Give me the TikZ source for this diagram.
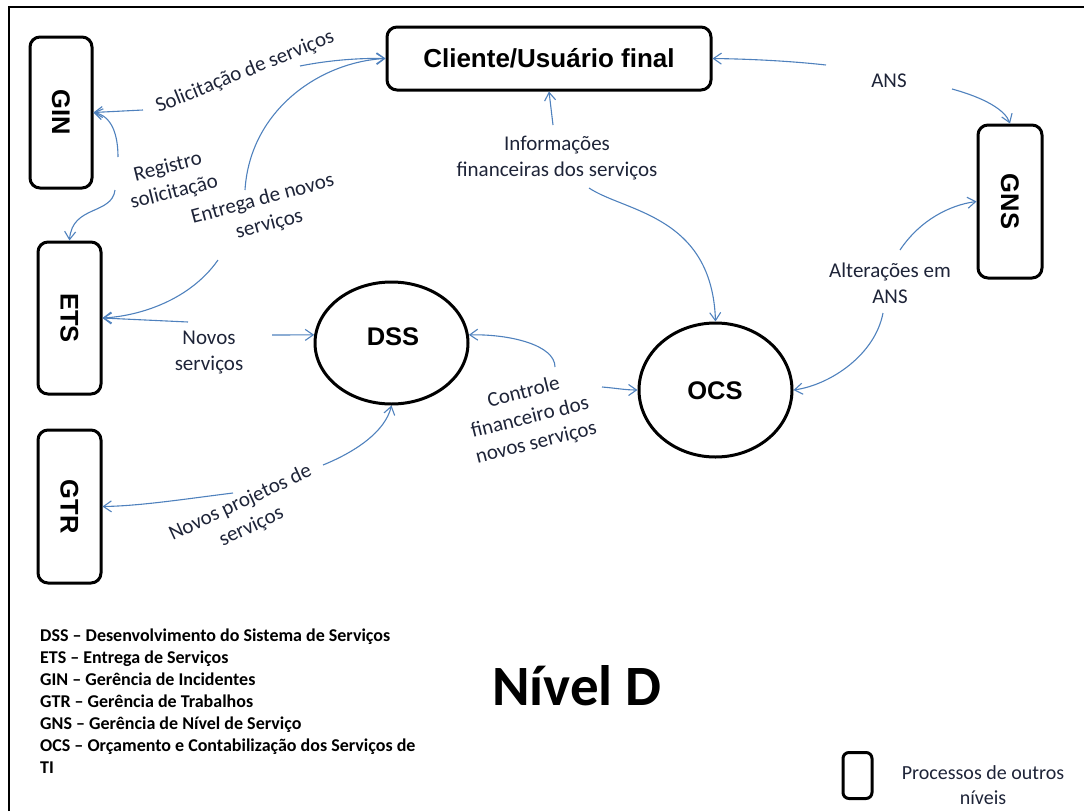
\documentclass[tikz,border=0pt]{standalone}
\usepackage{fontspec}
\setmainfont{Carlito}
\newfontfamily\procfont{Liberation Sans}
\usetikzlibrary{arrows.meta,shapes.geometric}
\definecolor{flow}{HTML}{4F81BD}
\definecolor{ink}{HTML}{1E2438}
\begin{document}
\begin{tikzpicture}[x=1pt,y=-1pt,
  proc/.style={draw=black, line width=3pt, rounded corners=10pt, inner sep=0pt,
    font=\procfont\bfseries\fontsize{25.5}{30}\selectfont},
  circ/.style={draw=black, ellipse, line width=3pt, inner sep=0pt},
  proctext/.style={font=\procfont\bfseries\fontsize{25.5}{30}\selectfont, inner sep=0pt},
  flowlab/.style={font=\fontsize{21}{26}\selectfont, text=ink, align=center, inner sep=1pt},
  legline/.style={font=\bfseries\fontsize{18}{22}\selectfont, anchor=base west, inner sep=0pt},
  link/.style={draw=flow, line width=1.1pt, -{Straight Barb[length=8pt,width=11pt]}}
]
\useasboundingbox (0,0) rectangle (1084,811);
% frame
\draw[line width=2pt] (9,811) -- (9,7) -- (1084,7);

% processes of other levels
\node[proc, minimum width=62pt, minimum height=151pt] (GIN) at (61,112.5) {\rotatebox{-90}{GIN}};
\node[proc, minimum width=63pt, minimum height=152pt] (ETS) at (69.5,318) {\rotatebox{-90}{ETS}};
\node[proc, minimum width=63pt, minimum height=153pt] (GTR) at (69.5,506.5) {\rotatebox{-90}{GTR}};
\node[proc, minimum width=64pt, minimum height=153pt] (GNS) at (1010,201.5) {\rotatebox{-90}{GNS}};
\node[proc, minimum width=324pt, minimum height=63pt, font=\procfont\bfseries\fontsize{26}{30}\selectfont] (Cliente) at (549,58.5) {Cliente/Usuário final};

% processes of this level
\node[circ, minimum width=153pt, minimum height=122pt] (DSS) at (391.5,343) {};
\node[proctext] (DSSt) at (393,337) {DSS};
\node[circ, minimum width=153pt, minimum height=134pt] (OCS) at (715.5,390) {};
\node[proctext] (OCSt) at (715,390.5) {OCS};

% flow labels
\node[flowlab, rotate=22] (lSol) at (245,72) {Solicitação de serviços};
\node[flowlab, rotate=14] (lReg) at (171,180) {Registro\\solicitação};
\node[flowlab, rotate=15] (lEnt) at (266,212) {Entrega de novos\\serviços};
\node[flowlab] (lNov) at (209,353) {Novos\\serviços};
\node[flowlab, rotate=25] (lPro) at (246,515) {Novos projetos de\\serviços};
\node[flowlab, rotate=14] (lCon) at (530,418) {Controle\\financeiro dos\\novos serviços};
\node[flowlab] (lInf) at (557,158) {Informações\\financeiras dos serviços};
\node[flowlab] (lANS) at (889,81) {ANS};
\node[flowlab] (lAlt) at (890,283) {Alterações em\\ANS};

% connectors
\coordinate (sA) at (143,110);
\draw[link] (sA) -- (GIN.east);
\coordinate (sB) at (300,66);
\draw[link] (sB) .. controls (330,60) and (360,58) .. (Cliente.west);
\coordinate (rA) at (118,157);
\draw[link] (rA) .. controls (118,135) and (112,116) .. (GIN.east);
\coordinate (rB) at (115,190);
\draw[link] (rB) .. controls (112,215) and (72,205) .. (ETS.north);
\coordinate (eA) at (245,190);
\draw[link] (eA) .. controls (250,110) and (320,62) .. (Cliente.west);
\coordinate (eB) at (218,260);
\draw[link] (eB) .. controls (190,300) and (140,316) .. (ETS.east);
\coordinate (nA) at (188,322);
\draw[link] (nA) -- (ETS.east);
\coordinate (nB) at (272,335);
\draw[link] (nB) -- (DSS.174);
\coordinate (pA) at (233,493);
\draw[link] (pA) .. controls (185,499) and (140,506) .. (GTR.east);
\coordinate (pB) at (323,465);
\draw[link] (pB) .. controls (355,452) and (385,432) .. (DSS.south);
\coordinate (cA) at (555,367);
\draw[link] (cA) .. controls (555,345) and (510,334) .. (DSS.6);
\coordinate (cB) at (602,387);
\draw[link] (cB) .. controls (615,388) and (625,390) .. (OCS.west);
\coordinate (iA) at (553,125);
\draw[link] (iA) -- (Cliente.south);
\coordinate (iB) at (589,188);
\draw[link] (iB) .. controls (625,212) and (712,215) .. (OCS.north);
\coordinate (aA) at (826,65);
\draw[link] (aA) .. controls (790,61) and (750,59) .. (Cliente.east);
\coordinate (aB) at (952,89);
\draw[link] (aB) .. controls (985,98) and (1005,110) .. (GNS.north);
\coordinate (lA) at (900,250);
\draw[link] (lA) .. controls (920,220) and (950,205) .. (GNS.west);
\coordinate (lB) at (883,313);
\draw[link] (lB) .. controls (875,355) and (830,385) .. (OCS.east);

% acronym list
\node[legline] (leg1) at (40,641) {DSS – Desenvolvimento do Sistema de Serviços};
\node[legline] (leg2) at (40,663) {ETS – Entrega de Serviços};
\node[legline] (leg3) at (40,685) {GIN – Gerência de Incidentes};
\node[legline] (leg4) at (40,707) {GTR – Gerência de Trabalhos};
\node[legline] (leg5) at (40,729) {GNS – Gerência de Nível de Serviço};
\node[legline] (leg6) at (40,751) {OCS – Orçamento e Contabilização dos Serviços de};
\node[legline] (leg7) at (40,773) {TI};

% level title
\node[anchor=base, inner sep=0pt, font=\bfseries\fontsize{57}{60}\selectfont] (title) at (577,705) {Nível D};

% key
\node[draw=black, line width=3pt, rounded corners=6pt, minimum width=29pt, minimum height=46pt, inner sep=0pt] (key) at (857.5,775.5) {};
\node[flowlab, font=\fontsize{20}{25}\selectfont] (keytext) at (983,785) {Processos de outros\\níveis};
\end{tikzpicture}
\end{document}
